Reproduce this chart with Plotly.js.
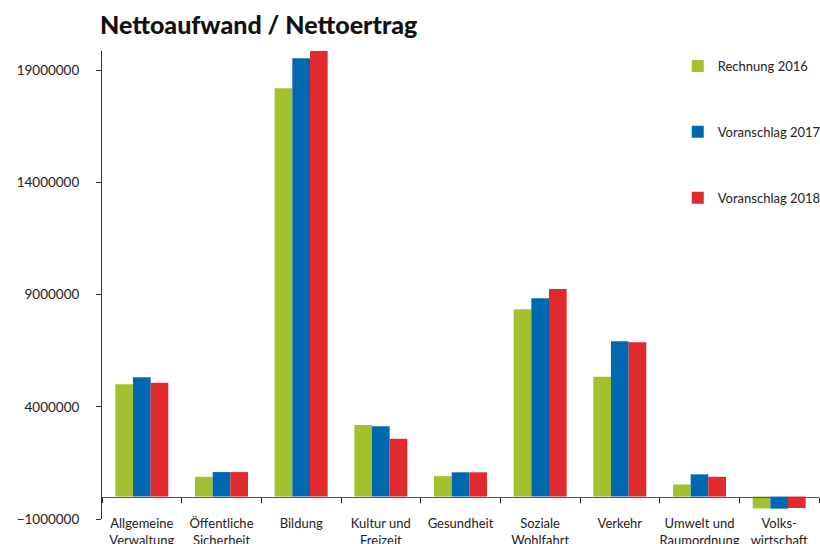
<!DOCTYPE html>
<html>
<head>
<meta charset="utf-8">
<script src="https://cdn.plot.ly/plotly-3.0.1.min.js"></script>
<style>html,body{margin:0;padding:0;background:#fff;}#chart{width:820px;height:544px;}</style>
</head>
<body>
<div id="chart"></div>
<script>
const categories = ["Allgemeine<br>Verwaltung","Öffentliche<br>Sicherheit","Bildung","Kultur und<br>Freizeit","Gesundheit","Soziale<br>Wohlfahrt","Verkehr","Umwelt und<br>Raumordnung","Volks-<br>wirtschaft"];
const rechnung2016 = [5000000, 880000, 18190000, 3190000, 910000, 8340000, 5340000, 540000, -530000];
const voranschlag2017 = [5310000, 1090000, 19530000, 3130000, 1080000, 8830000, 6920000, 990000, -540000];
const voranschlag2018 = [5070000, 1090000, 19850000, 2580000, 1080000, 9250000, 6870000, 880000, -510000];
const seriesNames = ["Rechnung 2016", "Voranschlag 2017", "Voranschlag 2018"];
const yTickVals = [-1000000, 4000000, 9000000, 14000000, 19000000];
const yTickText = ["\u22121000000", "4000000", "9000000", "14000000", "19000000"];

const colors = ["#a3c02e", "#0068b0", "#e02a2e"];
const FONT = "Lato, 'Open Sans', sans-serif";
const yMin = -1000000, yMax = 19850000;

const allSeries = [rechnung2016, voranschlag2017, voranschlag2018];
const traces = allSeries.map((vals, i) => ({
  type: "bar",
  name: seriesNames[i],
  x: categories,
  y: vals,
  marker: {color: colors[i], line: {width: 0}},
  legendgroup: "g" + i,
  hoverinfo: "x+y+name"
}));

const layout = {
  width: 820, height: 544,
  margin: {l: 102, r: 1, t: 51, b: 25, pad: 0, autoexpand: false},
  paper_bgcolor: "#fff", plot_bgcolor: "#fff",
  font: {family: FONT, size: 13, color: "#222"},
  title: {
    text: "Nettoaufwand / Nettoertrag",
    font: {family: FONT, size: 25, color: "#111", weight: 900},
    xref: "container", x: 100/820, xanchor: "left",
    yref: "container", y: 1 - 25/544, yanchor: "middle"
  },
  barmode: "group",
  bargap: 0.335,
  bargroupgap: 0,
  showlegend: true,
  legend: {
    x: 0.803, y: 1, xanchor: "left", yanchor: "top",
    bgcolor: "rgba(0,0,0,0)",
    font: {family: FONT, size: 13, color: "#222"},
    tracegroupgap: 46,
    traceorder: "grouped"
  },
  xaxis: {
    type: "category",
    anchor: "free",
    position: (0 - yMin) / (yMax - yMin),
    automargin: false,
    showline: true, linecolor: "#555", linewidth: 1,
    ticks: "outside", tickson: "boundaries", ticklen: 5, tickcolor: "#222", tickwidth: 1,
    tickangle: 0,
    ticklabelstandoff: 15,
    showgrid: false, zeroline: false,
    tickfont: {family: FONT, size: 13, color: "#222"},
    fixedrange: true
  },
  yaxis: {
    range: [yMin, yMax],
    automargin: false,
    tickmode: "array", tickvals: yTickVals, ticktext: yTickText,
    showline: true, linecolor: "#333", linewidth: 1,
    ticks: "outside", ticklen: 5, tickcolor: "#333", tickwidth: 1,
    ticklabelstandoff: 14,
    showgrid: false, zeroline: false,
    tickfont: {family: FONT, size: 13.5, color: "#222"},
    fixedrange: true
  }
};

Plotly.newPlot("chart", traces, layout, {displayModeBar: false, staticPlot: true});
</script>
</body>
</html>
